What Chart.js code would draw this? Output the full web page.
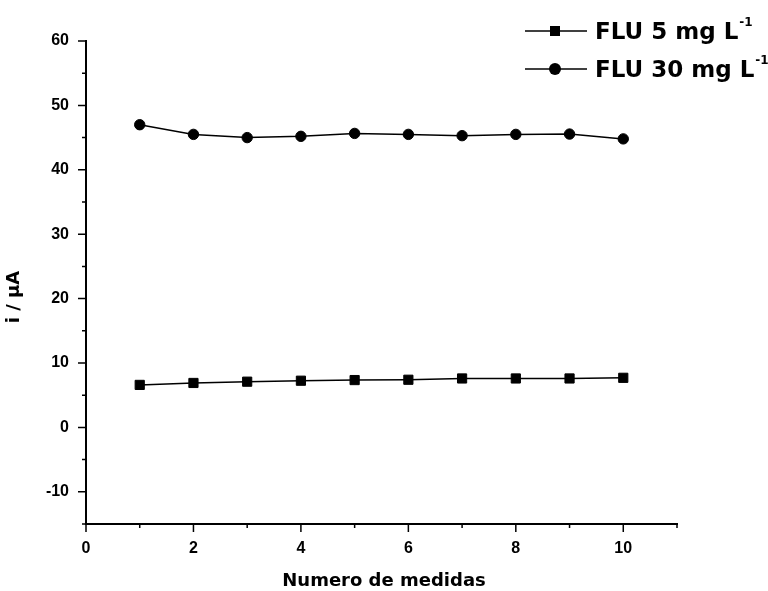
<!DOCTYPE html>
<html>
<head>
<meta charset="utf-8">
<script src="https://cdn.jsdelivr.net/npm/chart.js@4/dist/chart.umd.min.js"></script>
<style>
  html, body { margin: 0; padding: 0; background: #ffffff; }
  canvas { display: block; }
</style>
</head>
<body>
<canvas id="chart" width="768" height="591"></canvas>
<script>
// Measurement number (x) and current in µA for each concentration
const medidas = [1, 2, 3, 4, 5, 6, 7, 8, 9, 10];
const flu5 = [6.6, 6.9, 7.1, 7.25, 7.35, 7.4, 7.6, 7.6, 7.6, 7.7];
const flu30 = [47.0, 45.5, 45.0, 45.2, 45.65, 45.5, 45.3, 45.5, 45.55, 44.8];

// Axis ticks
const xTicks = [0, 2, 4, 6, 8, 10];
const xMinorTicks = [1, 3, 5, 7, 9, 11];
const yTicks = [-10, 0, 10, 20, 30, 40, 50, 60];
const yMinorTicks = [-15, -5, 5, 15, 25, 35, 45, 55];

// Labels
const seriesNames = ['FLU 5 mg L', 'FLU 30 mg L'];
const unitExponent = '-1';
const xTitle = 'Numero de medidas';
const yTitle = 'i / µA';

const FONT = '"DejaVu Sans", "Liberation Sans", Arial, sans-serif';
const FONT_NUM = '"Liberation Sans", Arial, sans-serif';

function toPoints(values) {
  return medidas.map((m, i) => ({ x: m, y: values[i] }));
}

const datasets = [
  {
    label: seriesNames[0],
    data: toPoints(flu5),
    borderColor: '#000000',
    backgroundColor: '#000000',
    borderWidth: 1.5,
    pointStyle: 'rect',
    pointRadius: 6.5,
    pointBorderWidth: 1,
    pointBorderColor: '#000000',
    pointBackgroundColor: '#000000',
    tension: 0
  },
  {
    label: seriesNames[1],
    data: toPoints(flu30),
    borderColor: '#000000',
    backgroundColor: '#000000',
    borderWidth: 1.5,
    pointStyle: 'circle',
    pointRadius: 5.2,
    pointBorderWidth: 1,
    pointBorderColor: '#000000',
    pointBackgroundColor: '#000000',
    tension: 0
  }
];

// Major and minor tick marks drawn outward from the axis lines
const tickMarks = {
  id: 'tickMarks',
  afterDraw(chart) {
    const { ctx, scales: { x, y } } = chart;
    const ax = chart.chartArea.left;
    const ay = chart.chartArea.bottom;
    ctx.save();
    ctx.strokeStyle = '#000000';
    ctx.lineWidth = 1.5;
    ctx.beginPath();
    yTicks.forEach(v => { const p = y.getPixelForValue(v); ctx.moveTo(ax, p); ctx.lineTo(ax - 8, p); });
    yMinorTicks.forEach(v => { const p = y.getPixelForValue(v); ctx.moveTo(ax, p); ctx.lineTo(ax - 4, p); });
    xTicks.forEach(v => { const p = x.getPixelForValue(v); ctx.moveTo(p, ay); ctx.lineTo(p, ay + 8); });
    xMinorTicks.forEach(v => { const p = x.getPixelForValue(v); ctx.moveTo(p, ay); ctx.lineTo(p, ay + 4); });
    ctx.stroke();
    ctx.restore();
  }
};

// Axis titles
const axisTitles = {
  id: 'axisTitles',
  afterDraw(chart) {
    const { ctx } = chart;
    ctx.save();
    ctx.fillStyle = '#000000';
    ctx.font = 'bold 18px ' + FONT;
    ctx.textAlign = 'center';
    ctx.textBaseline = 'middle';
    ctx.fillText(xTitle, 384, 581);
    ctx.translate(14, 297);
    ctx.rotate(-Math.PI / 2);
    ctx.fillText(yTitle, 0, 0);
    ctx.restore();
  }
};

// Legend with line-and-marker samples and superscript unit exponent
const unitLegend = {
  id: 'unitLegend',
  afterDraw(chart) {
    const { ctx } = chart;
    const rows = [31, 69];
    ctx.save();
    chart.data.datasets.forEach((ds, i) => {
      const cy = rows[i];
      ctx.strokeStyle = ds.borderColor;
      ctx.lineWidth = ds.borderWidth;
      ctx.beginPath();
      ctx.moveTo(525, cy);
      ctx.lineTo(587, cy);
      ctx.stroke();
      ctx.fillStyle = ds.pointBackgroundColor;
      if (ds.pointStyle === 'rect') {
        ctx.fillRect(550, cy - 5, 10, 10);
      } else {
        ctx.beginPath();
        ctx.arc(555, cy, 6, 0, Math.PI * 2);
        ctx.fill();
      }
      ctx.fillStyle = '#000000';
      ctx.textAlign = 'left';
      ctx.textBaseline = 'alphabetic';
      ctx.font = 'bold 23px ' + FONT;
      ctx.fillText(ds.label, 595, cy + 8);
      const w = ctx.measureText(ds.label).width;
      ctx.font = 'bold 12px ' + FONT;
      ctx.fillText(unitExponent, 595 + w + 1, cy - 5);
    });
    ctx.restore();
  }
};

new Chart(document.getElementById('chart'), {
  type: 'line',
  data: { datasets },
  options: {
    responsive: false,
    animation: false,
    devicePixelRatio: 1,
    layout: { padding: { top: 41, right: 91, bottom: 0, left: 0 } },
    plugins: {
      legend: { display: false },
      tooltip: { enabled: false }
    },
    scales: {
      x: {
        type: 'linear',
        min: 0,
        max: 11,
        afterBuildTicks: s => { s.ticks = xTicks.map(v => ({ value: v })); },
        afterFit: s => { s.height = 67; },
        grid: { display: false, drawTicks: true, tickLength: 8 },
        border: { display: true, color: '#000000', width: 2 },
        ticks: {
          color: '#000000',
          font: { family: FONT_NUM, size: 16, weight: 'bold' },
          padding: 7,
          maxRotation: 0,
          autoSkip: false
        },
        title: { display: false }
      },
      y: {
        type: 'linear',
        min: -15,
        max: 60,
        afterBuildTicks: s => { s.ticks = yTicks.map(v => ({ value: v })); },
        afterFit: s => { s.width = 86; },
        grid: { display: false, drawTicks: true, tickLength: 8 },
        border: { display: true, color: '#000000', width: 2 },
        ticks: {
          color: '#000000',
          font: { family: FONT_NUM, size: 16, weight: 'bold' },
          padding: 9,
          autoSkip: false
        },
        title: { display: false }
      }
    }
  },
  plugins: [tickMarks, axisTitles, unitLegend]
});
</script>
</body>
</html>
